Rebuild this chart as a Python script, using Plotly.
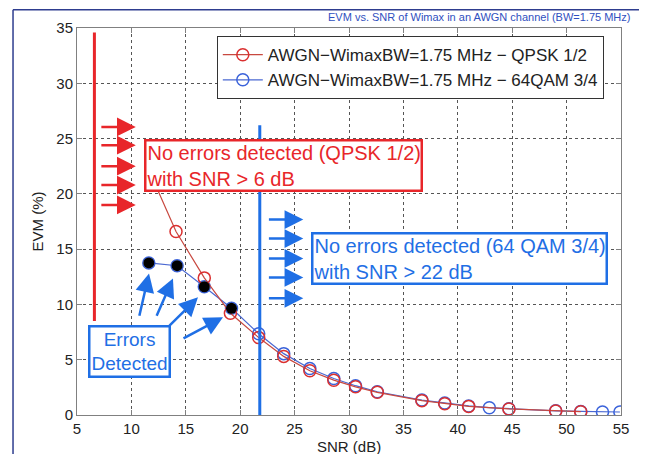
"""
EVM vs SNR for WiMAX (BW=1.75 MHz) in an AWGN channel, QPSK 1/2 and 64QAM 3/4.
"""

import plotly.graph_objects as go

# ---- data ----
snr_qpsk = [11.9, 14.1, 16.7, 19.1, 21.7, 24.0, 26.4, 28.6, 30.6, 32.6,
            36.7, 38.8, 41.0, 44.7, 49.0, 51.3]
evm_qpsk = [21.5, 16.6, 12.4, 9.2, 7.0, 5.3, 4.0, 3.15, 2.55, 2.05,
            1.3, 1.02, 0.78, 0.55, 0.36, 0.3]

snr_64qam = [11.6, 14.2, 16.7, 19.2, 21.7, 24.0, 26.4, 28.6, 30.6, 32.6,
             36.7, 38.8, 41.0, 42.9, 44.7, 49.0, 51.3, 53.3, 54.9]
evm_64qam = [13.75, 13.5, 11.6, 9.65, 7.35, 5.55, 4.2, 3.3, 2.65, 2.1,
             1.35, 1.08, 0.82, 0.66, 0.56, 0.38, 0.32, 0.27, 0.27]
n_errors = 4  # first 64QAM points where errors were detected

x_ticks = [5, 10, 15, 20, 25, 30, 35, 40, 45, 50, 55]
y_ticks = [0, 5, 10, 15, 20, 25, 30, 35]

FONT = "Arial, Liberation Sans, sans-serif"
RED = "#E8262A"
BLUE = "#1F6FE5"
TEXT = "#222222"

fig = go.Figure()

fig.add_trace(
    go.Scatter(
        x=snr_64qam,
        y=evm_64qam,
        mode="lines+markers",
        name="AWGN\u2212WimaxBW=1.75 MHz \u2212 64QAM 3/4",
        line=dict(color="#4A68D2", width=1.2),
        marker=dict(symbol="circle-open", size=12, color="#3A62DA", line=dict(width=1.5)),
        legendrank=2,
    )
)

fig.add_trace(
    go.Scatter(
        x=snr_qpsk,
        y=evm_qpsk,
        mode="lines+markers",
        name="AWGN\u2212WimaxBW=1.75 MHz \u2212 QPSK 1/2",
        line=dict(color="#C8483F", width=1.2),
        marker=dict(symbol="circle-open", size=12, color="#DA3030", line=dict(width=1.5)),
        legendrank=1,
    )
)

fig.add_trace(
    go.Scatter(
        x=snr_64qam[:n_errors],
        y=evm_64qam[:n_errors],
        mode="markers",
        marker=dict(symbol="circle", size=11, color="black"),
        showlegend=False,
    )
)

# ---- threshold lines and slide frame ----
shapes = [
    dict(type="line", xref="x", yref="y", x0=6.6, x1=6.6, y0=8.5, y1=34.6,
         line=dict(color=RED, width=3)),
    dict(type="line", xref="x", yref="y", x0=21.8, x1=21.8, y0=0, y1=26.2,
         line=dict(color=BLUE, width=3)),
    dict(type="line", xref="paper", yref="paper", x0=-0.1176, x1=1.2, y0=1.047, y1=1.047,
         line=dict(color="#2E3D8F", width=1.5)),
    dict(type="line", xref="paper", yref="paper", x0=-0.1176, x1=-0.1176, y0=-0.2, y1=1.047,
         line=dict(color="#2E3D8F", width=1.5)),
]

annotations = []


def arrow(x0, y0, x1, y1, color):
    annotations.append(
        dict(x=x1, y=y1, ax=x0, ay=y0, xref="x", yref="y", axref="x", ayref="y",
             text="", showarrow=True, arrowhead=2, arrowsize=1.5, arrowwidth=2.5,
             arrowcolor=color)
    )


for yy in [26.05, 24.4, 22.5, 20.8, 19.0]:
    arrow(7.1, yy, 10.4, yy, RED)

for yy in [17.67, 15.96, 14.16, 12.44, 10.55]:
    arrow(22.5, yy, 25.8, yy, BLUE)

for x0, y0, x1, y1 in [(10.7, 8.84, 11.62, 12.8), (12.26, 8.84, 13.82, 12.35),
                       (13.36, 7.94, 16.12, 10.64), (14.65, 6.85, 18.42, 8.84)]:
    arrow(x0, y0, x1, y1, BLUE)

annotations += [
    dict(x=11.2, y=22.55, xref="x", yref="y", xanchor="left", yanchor="middle",
         text="No errors detected (QPSK 1/2)<br>with SNR > 6 dB", align="left",
         showarrow=False, font=dict(family=FONT, size=20, color=RED),
         bgcolor="white", bordercolor=RED, borderwidth=2.5, borderpad=0),
    dict(x=26.5, y=14.15, xref="x", yref="y", xanchor="left", yanchor="middle",
         text="No errors detected (64 QAM 3/4)<br>with SNR > 22 dB", align="left",
         showarrow=False, font=dict(family=FONT, size=20, color=BLUE),
         bgcolor="white", bordercolor=BLUE, borderwidth=2.5, borderpad=0),
    dict(x=9.78, y=5.73, xref="x", yref="y", xanchor="center", yanchor="middle",
         text="Errors<br>Detected", align="center",
         showarrow=False, font=dict(family=FONT, size=19, color=BLUE),
         bgcolor="white", bordercolor=BLUE, borderwidth=2.5, borderpad=1),
    # slide title (cut off in the source image) kept small under the frame line
    dict(x=1.02, y=1.028, xref="paper", yref="paper", xanchor="right", yanchor="middle",
         text="EVM vs. SNR of Wimax in an AWGN channel (BW=1.75 MHz)",
         showarrow=False, font=dict(family=FONT, size=11, color="#3050C0")),
    # axis titles
    dict(x=0.5, y=-0.0815, xref="paper", yref="paper", xanchor="center", yanchor="middle",
         text="SNR (dB)", showarrow=False, font=dict(family=FONT, size=15, color=TEXT)),
    dict(x=-0.0735, y=0.5, xref="paper", yref="paper", xanchor="center", yanchor="middle",
         text="EVM (%)", textangle=-90, showarrow=False,
         font=dict(family=FONT, size=15, color=TEXT)),
]

axis_style = dict(
    showline=True,
    linecolor="#808080",
    linewidth=1,
    mirror="ticks",
    ticks="inside",
    ticklen=5,
    tickcolor="#808080",
    showgrid=True,
    gridcolor="#555555",
    griddash="dot",
    gridwidth=1,
    zeroline=False,
    automargin=False,
    tickfont=dict(family=FONT, size=15, color=TEXT),
)

fig.update_xaxes(range=[5, 55], tickvals=x_ticks, **axis_style)
fig.update_yaxes(range=[0, 35], tickvals=y_ticks, **axis_style)

# the page body adds an 8 px offset, so the figure is 8 px smaller each way
fig.update_layout(
    width=639,
    height=446,
    margin=dict(l=69, r=26, t=20, b=39),
    paper_bgcolor="white",
    plot_bgcolor="white",
    shapes=shapes,
    annotations=annotations,
    showlegend=True,
    legend=dict(
        x=0.257, y=0.979, xanchor="left", yanchor="top",
        bgcolor="white", bordercolor="#333333", borderwidth=1,
        font=dict(family=FONT, size=17, color=TEXT),
        tracegroupgap=0, itemwidth=40,
    ),
)

fig.write_html("out.html")
